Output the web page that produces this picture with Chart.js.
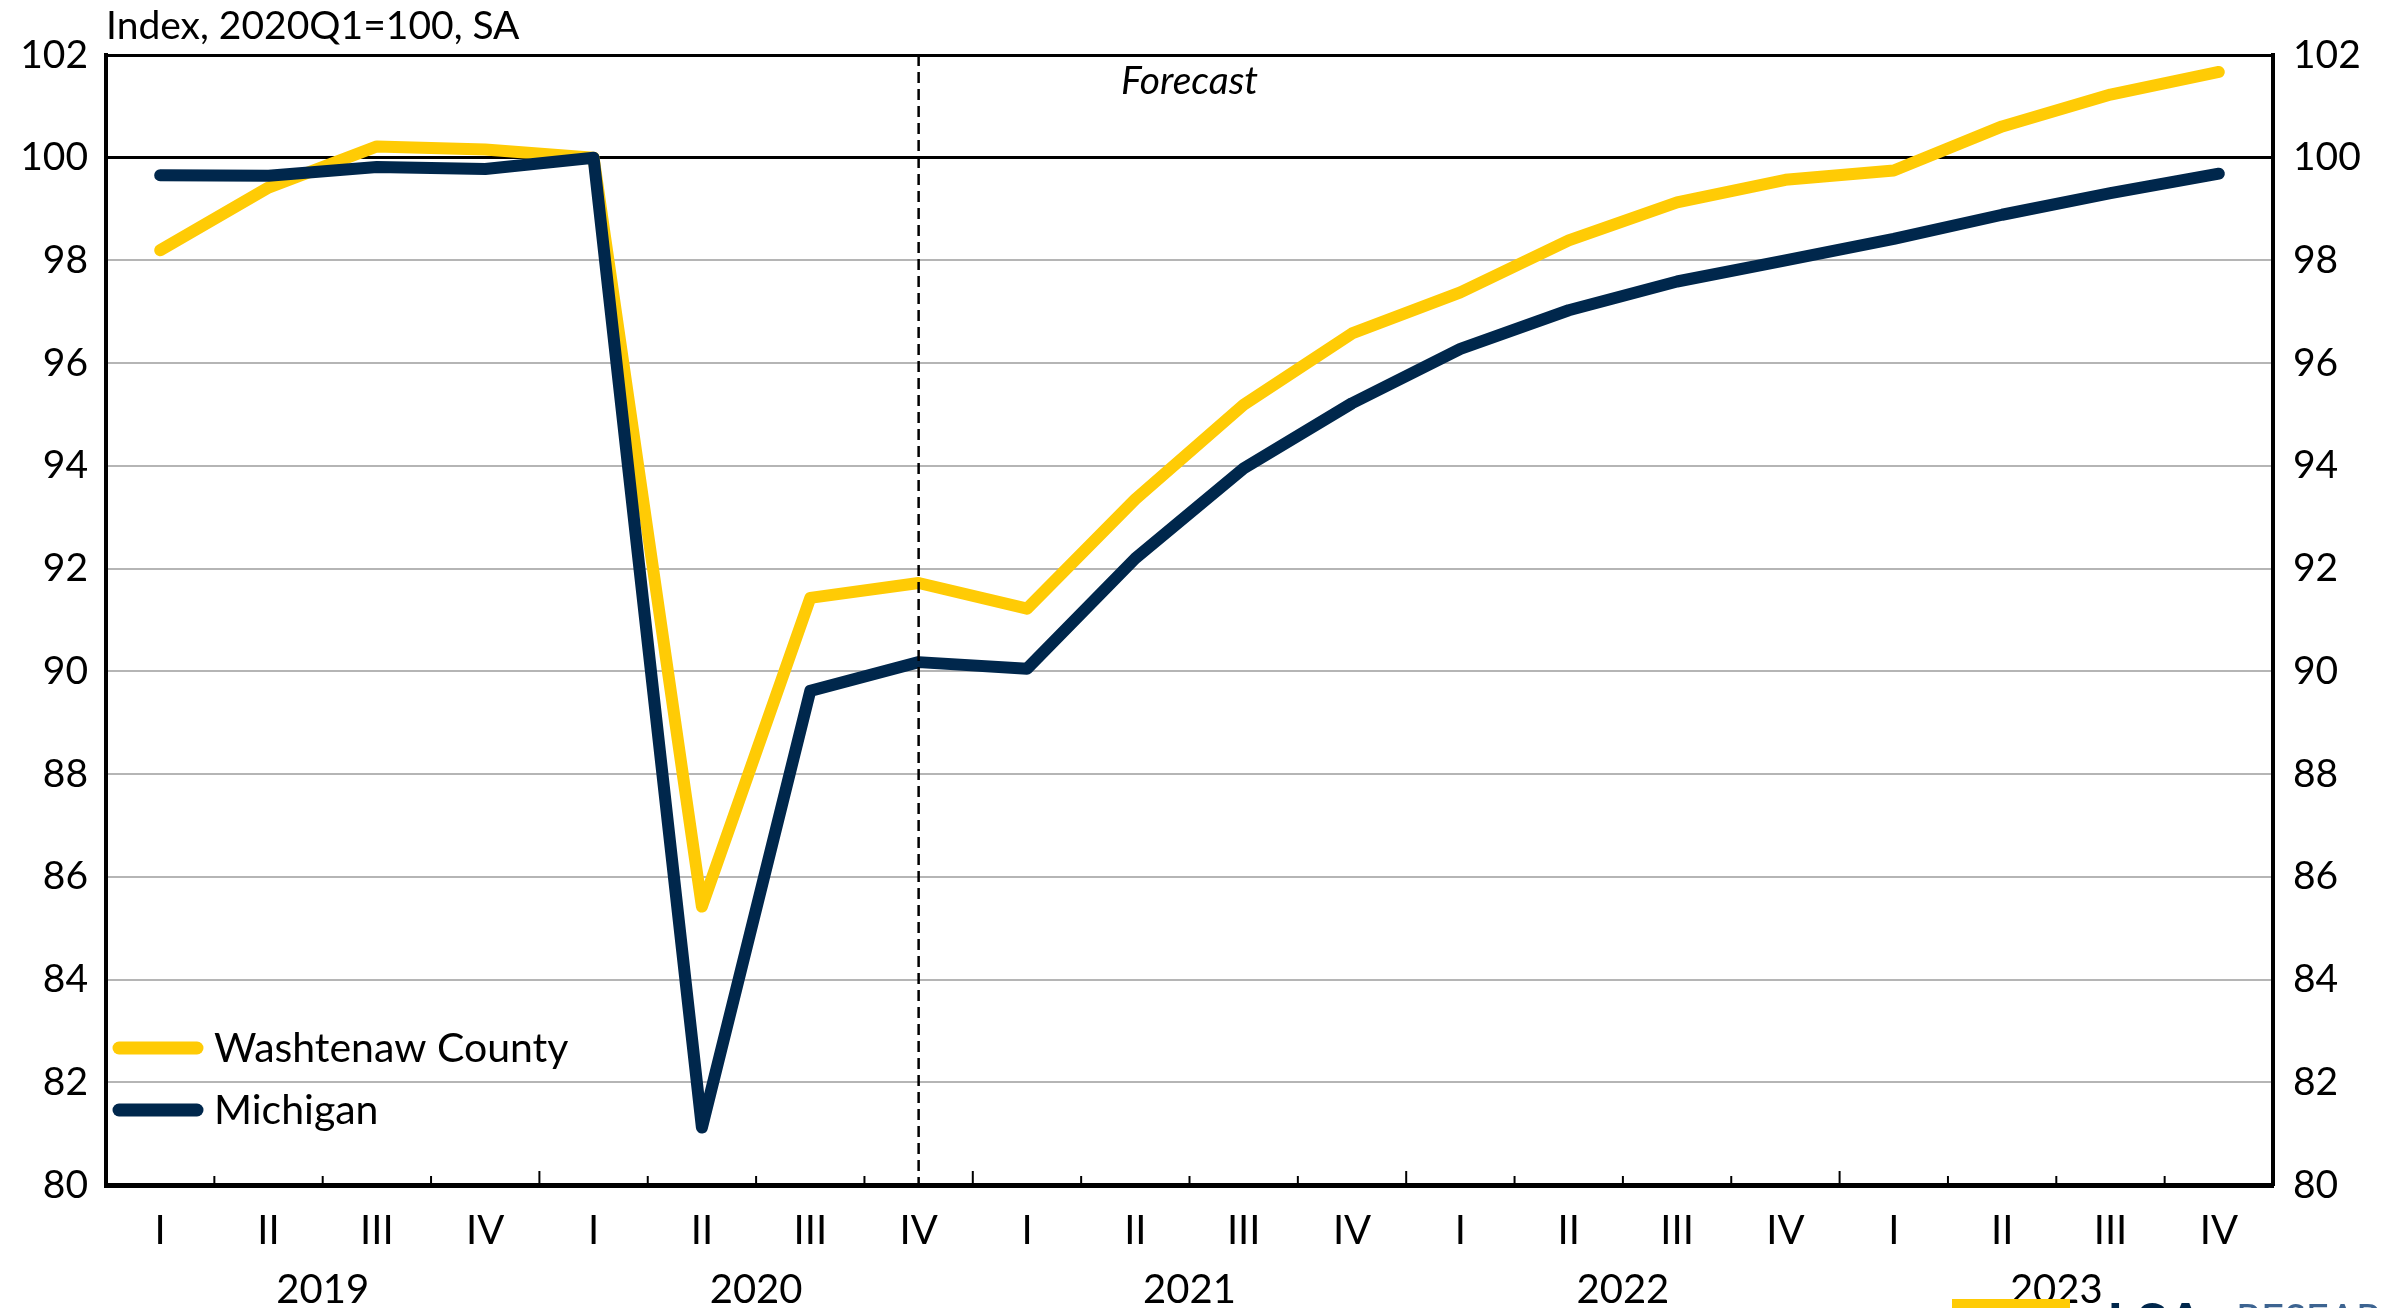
<!DOCTYPE html>
<html lang="en">
<head>
    <meta charset="UTF-8">
    <script src="https://cdn.jsdelivr.net/npm/chart.js"></script>
    <title>Washtenaw County vs Michigan</title>
    <style>
        body { margin: 0; background: #fff; }
        #box { width: 2381px; height: 1308px; position: relative; }
    </style>
</head>
<body>
    <div id="box">
        <canvas id="grafico"></canvas>
    </div>

<script>
    // ---------------- dados ----------------
    const trimestres = ['I', 'II', 'III', 'IV', 'I', 'II', 'III', 'IV', 'I', 'II', 'III', 'IV',
                        'I', 'II', 'III', 'IV', 'I', 'II', 'III', 'IV'];
    const anos = ['2019', '2020', '2021', '2022', '2023'];
    const washtenaw = [98.2, 99.42, 100.22, 100.16, 100.0, 85.42, 91.43, 91.72, 91.22, 93.35,
                       95.19, 96.58, 97.38, 98.39, 99.13, 99.57, 99.75, 100.61, 101.23, 101.67];
    const michigan = [99.66, 99.65, 99.82, 99.78, 100.0, 81.12, 89.62, 90.18, 90.05, 92.2,
                      93.95, 95.22, 96.28, 97.03, 97.59, 98.0, 98.42, 98.89, 99.31, 99.69];
    const yTicks = [80, 82, 84, 86, 88, 90, 92, 94, 96, 98, 100, 102];
    const inicioPrevisao = 7; // 2020 IV

    const AMARELO = '#FFCB05';
    const AZUL = '#00274C';
    const FONTE = 'Lato';

    // plugin para linha tracejada, texto, legenda e marcas do eixo
    const extras = {
        id: 'extras',
        afterDraw(chart) {
            const ctx = chart.ctx;
            const area = chart.chartArea;
            const x = chart.scales.x;
            ctx.save();

            // marcas entre trimestres (para dentro)
            const passo = x.getPixelForValue(1) - x.getPixelForValue(0);
            ctx.strokeStyle = '#000';
            ctx.lineWidth = 2;
            for (let i = 1; i < trimestres.length; i++) {
                const px = x.getPixelForValue(i) - passo / 2;
                const len = (i % 4 === 0) ? 14 : 9;
                ctx.beginPath();
                ctx.moveTo(px, area.bottom);
                ctx.lineTo(px, area.bottom - len);
                ctx.stroke();
            }

            // linha da previsão
            const xp = x.getPixelForValue(inicioPrevisao);
            ctx.setLineDash([11, 6]);
            ctx.lineWidth = 2.5;
            ctx.beginPath();
            ctx.moveTo(xp, area.top);
            ctx.lineTo(xp, area.bottom);
            ctx.stroke();
            ctx.setLineDash([]);

            // "Forecast"
            ctx.fillStyle = '#000';
            ctx.font = 'italic 39px ' + FONTE;
            ctx.textAlign = 'center';
            ctx.textBaseline = 'middle';
            const xf = (x.getPixelForValue(9) + x.getPixelForValue(10)) / 2;
            ctx.fillText('Forecast', xf, area.top + 26);

            // título do eixo
            ctx.font = '39px ' + FONTE;
            ctx.textAlign = 'left';
            ctx.fillText('Index, 2020Q1=100, SA', area.left, 26);

            // legenda
            const itens = [chart.data.datasets[0], chart.data.datasets[1]];
            const ys = [1048, 1110];
            ctx.font = '41px ' + FONTE;
            ctx.lineCap = 'round';
            itens.forEach((ds, k) => {
                ctx.strokeStyle = ds.borderColor;
                ctx.lineWidth = 13;
                ctx.beginPath();
                ctx.moveTo(area.left + 13, ys[k]);
                ctx.lineTo(area.left + 91, ys[k]);
                ctx.stroke();
                ctx.fillStyle = '#000';
                ctx.fillText(ds.label, area.left + 108, ys[k] + 1);
            });

            // pedaço do logo no canto
            ctx.fillStyle = AMARELO;
            ctx.fillRect(1952, 1299, 118, 9);
            ctx.fillStyle = AZUL;
            ctx.textBaseline = 'top';
            ctx.font = 'bold 56px ' + FONTE;
            ctx.fillText('LSA', 2107, 1297);
            ctx.fillStyle = '#3d6491';
            ctx.font = '40px ' + FONTE;
            ctx.fillText('RESEARCH', 2236, 1300);

            ctx.restore();
        }
    };

    const corGrade = (c) => {
        const v = c.tick && c.tick.value;
        return (v === 100 || v === 102 || v === 80) ? '#000' : '#b5b5b5';
    };
    const larguraGrade = (c) => {
        const v = c.tick && c.tick.value;
        return (v === 100 || v === 102) ? 3 : 2;
    };

    const grafico = new Chart(document.getElementById('grafico'), {
        type: 'line',
        data: {
            labels: trimestres,
            datasets: [{
                label: 'Washtenaw County',
                data: washtenaw,
                borderColor: AMARELO,
                backgroundColor: AMARELO,
                borderWidth: 12,
                pointRadius: 0,
                borderCapStyle: 'round',
                borderJoinStyle: 'round',
                tension: 0,
                order: 1
            }, {
                label: 'Michigan',
                data: michigan,
                borderColor: AZUL,
                backgroundColor: AZUL,
                borderWidth: 12,
                pointRadius: 0,
                borderCapStyle: 'round',
                borderJoinStyle: 'round',
                tension: 0,
                order: 0
            }]
        },
        options: {
            responsive: true,
            maintainAspectRatio: false,
            animation: false,
            layout: { padding: { top: 55, left: 0, right: 0, bottom: 0 } },
            plugins: {
                legend: { display: false },
                tooltip: { enabled: false }
            },
            scales: {
                x: {
                    type: 'category',
                    offset: true,
                    grid: { display: false },
                    border: { display: true, color: '#000', width: 5 },
                    ticks: {
                        color: '#000',
                        font: { family: FONTE, size: 40 },
                        padding: 14,
                        maxRotation: 0,
                        autoSkip: false
                    },
                    afterFit: (s) => { s.height = 75; }
                },
                x2: {
                    type: 'category',
                    labels: anos,
                    position: 'bottom',
                    offset: true,
                    grid: { display: false, drawTicks: false },
                    border: { display: false },
                    ticks: {
                        color: '#000',
                        font: { family: FONTE, size: 40 },
                        padding: 6,
                        maxRotation: 0,
                        autoSkip: false
                    },
                    afterFit: (s) => { s.height = 48; }
                },
                y: {
                    position: 'left',
                    min: 80,
                    max: 102,
                    afterBuildTicks: (s) => { s.ticks = yTicks.map(v => ({ value: v })); },
                    grid: { color: corGrade, lineWidth: larguraGrade, drawTicks: false },
                    border: { display: true, color: '#000', width: 4 },
                    ticks: {
                        color: '#000',
                        font: { family: FONTE, size: 39 },
                        padding: 18
                    },
                    afterFit: (s) => { s.width = 106; }
                },
                y2: {
                    position: 'right',
                    min: 80,
                    max: 102,
                    afterBuildTicks: (s) => { s.ticks = yTicks.map(v => ({ value: v })); },
                    grid: { display: false, drawTicks: false },
                    border: { display: true, color: '#000', width: 4 },
                    ticks: {
                        color: '#000',
                        font: { family: FONTE, size: 39 },
                        padding: 20
                    },
                    afterFit: (s) => { s.width = 108; }
                }
            }
        },
        plugins: [extras]
    });
</script>
</body>
</html>
